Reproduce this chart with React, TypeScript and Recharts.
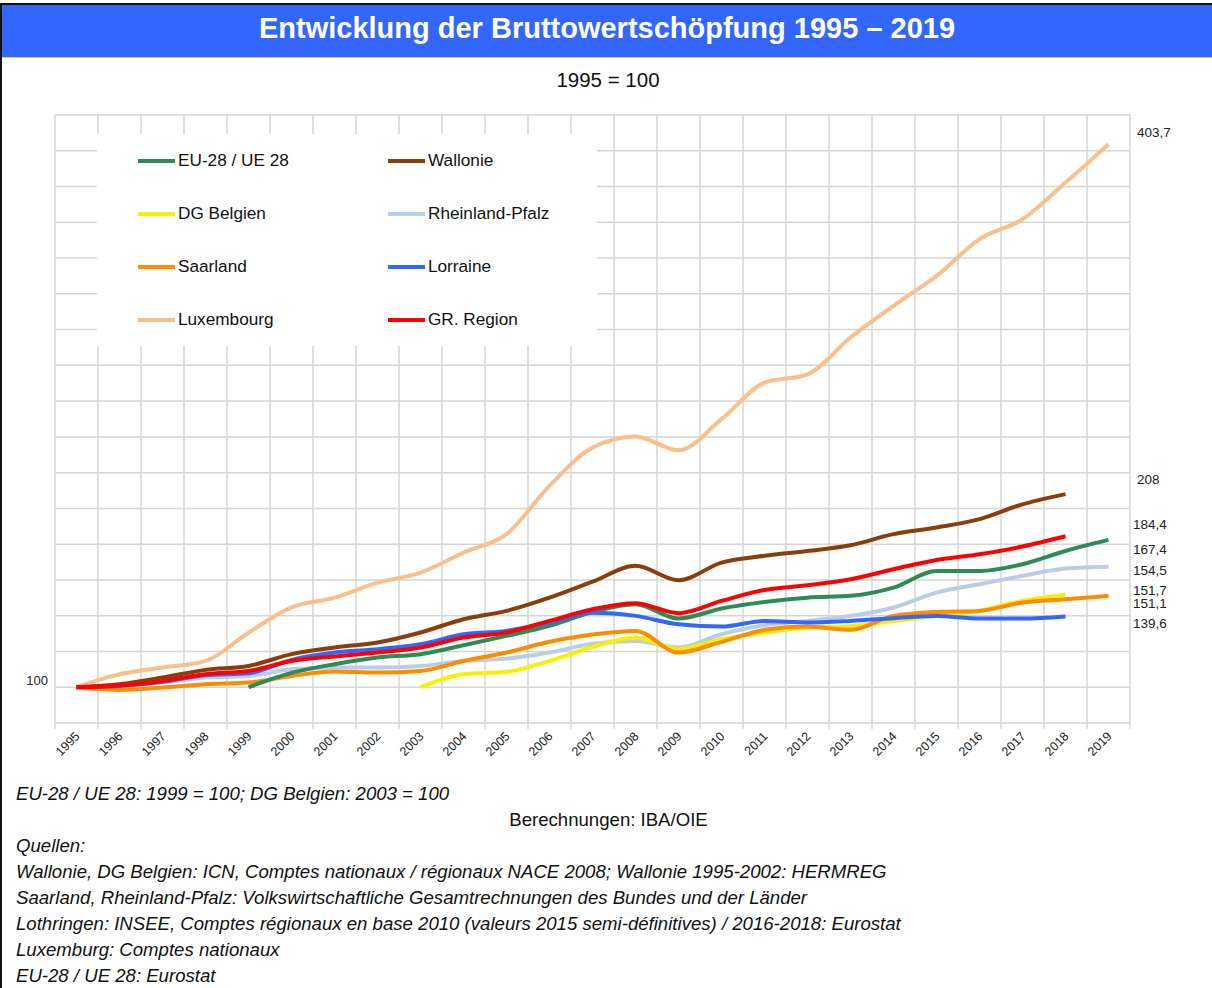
import { LineChart, Line, XAxis, YAxis, CartesianGrid } from 'recharts';

const years = [
  1995, 1996, 1997, 1998, 1999, 2000, 2001, 2002, 2003, 2004, 2005, 2006, 2007,
  2008, 2009, 2010, 2011, 2012, 2013, 2014, 2015, 2016, 2017, 2018, 2019,
];

const eu28 = [null, null, null, null, 100, 108, 112.9, 116.6, 118.5, 123.5, 128.7, 134.3, 142, 146.4, 138.4, 144, 147.7, 150.1, 151.1, 155.7, 165, 165, 168.8, 176.2, 182.4];
const wallonie = [100, 101.7, 105.4, 109.7, 111.9, 118.5, 122.2, 125, 130.6, 138, 142.7, 150.1, 159, 167.9, 159.8, 169.7, 173.5, 176.2, 179.4, 185.6, 189.3, 194, 202.3, 208, null];
const dgBelgien = [null, null, null, null, null, null, null, null, 100, 107.3, 108.6, 114.7, 122.5, 127.8, 121.3, 126.8, 130.6, 133.4, 134.3, 137.1, 139.9, 142.7, 148.3, 151.7, null];
const rheinlandPfalz = [100, 100.7, 102.6, 105.4, 106.3, 110, 111, 111, 111.9, 114.7, 116, 119.4, 124.3, 125.9, 122.2, 129.6, 134.7, 137.1, 139.9, 144.6, 152.9, 157.6, 162.3, 166.4, 167.4];
const saarland = [100, 98.5, 99.8, 101.7, 102.6, 106.3, 108.8, 108.2, 109.1, 114.7, 119.4, 125.4, 129.5, 131.5, 119.4, 125.4, 132.1, 133.9, 132.1, 139.9, 142.1, 142.7, 147.4, 149.2, 151.1];
const lorraine = [100, 100.7, 103, 106.7, 107.8, 115.3, 119.4, 121.3, 124, 129.6, 131.5, 136.2, 141.6, 139.9, 135.2, 133.9, 137.1, 136.2, 137.1, 138.6, 139.9, 138.4, 138.4, 139.6, null];
const luxembourg = [100, 107.3, 111, 114.7, 130.5, 144.7, 150.1, 158.5, 164.1, 175.3, 185.6, 212.6, 234, 240.2, 232.5, 249.9, 270.4, 275, 295.6, 313.3, 330, 350.6, 361.7, 382.2, 403.7];
const grRegion = [100, 101, 103.5, 107.3, 109.1, 114.7, 117.2, 119.4, 122.2, 127.8, 130.6, 137.1, 143.6, 147, 141.4, 148.3, 154.4, 157, 160.4, 166, 171.2, 174.4, 178.7, 184.4, null];

const yTicks = [80, 100, 120, 140, 160, 180, 200, 220, 240, 260, 280, 300, 320, 340, 360, 380, 400, 420];
const endLabels = ['403,7', '208', '184,4', '167,4', '154,5', '151,7', '151,1', '139,6'];

// legend order (two columns, row by row)
const legendItems = [
  { key: 'eu', name: 'EU-28 / UE 28', color: '#2e8b57' },
  { key: 'wal', name: 'Wallonie', color: '#8b3d0c' },
  { key: 'dg', name: 'DG Belgien', color: '#f7f000' },
  { key: 'rp', name: 'Rheinland-Pfalz', color: '#b9cde5' },
  { key: 'saar', name: 'Saarland', color: '#ff8c00' },
  { key: 'lor', name: 'Lorraine', color: '#3366ff' },
  { key: 'lux', name: 'Luxembourg', color: '#fcbf8c' },
  { key: 'gr', name: 'GR. Region', color: '#ff0000' },
];

// drawing order, bottom first
const drawOrder = ['lux', 'rp', 'dg', 'saar', 'eu', 'lor', 'wal', 'gr'];

const data = years.map((year, i) => ({
  year,
  eu: eu28[i],
  wal: wallonie[i],
  dg: dgBelgien[i],
  rp: rheinlandPfalz[i],
  saar: saarland[i],
  lor: lorraine[i],
  lux: luxembourg[i],
  gr: grRegion[i],
}));

const notes = [
  'Wallonie, DG Belgien: ICN, Comptes nationaux / régionaux NACE 2008; Wallonie 1995-2002: HERMREG',
  'Saarland, Rheinland-Pfalz: Volkswirtschaftliche Gesamtrechnungen des Bundes und der Länder',
  'Lothringen: INSEE, Comptes régionaux en base 2010 (valeurs 2015 semi-définitives) / 2016-2018: Eurostat',
  'Luxemburg: Comptes nationaux',
  'EU-28 / UE 28: Eurostat',
];

const FONT = '"Liberation Sans", Arial, sans-serif';
const CHART_W = 1212;
const CHART_H = 800;
const Y_AXIS_W = 55;
const MARGIN = { top: 115, right: 82, bottom: 17, left: 0 };
const PLOT_W = CHART_W - MARGIN.left - MARGIN.right - Y_AXIS_W;
const BAND = PLOT_W / years.length;
const GRID = '#d6d6d6';

const YearTick = ({ x, y, payload, index }: any) => {
  const half = BAND / 2;
  return (
    <g>
      <line x1={x - half} x2={x - half} y1={y} y2={y + 6} stroke={GRID} strokeWidth={1.5} />
      {index === years.length - 1 && (
        <line x1={x + half} x2={x + half} y1={y} y2={y + 6} stroke={GRID} strokeWidth={1.5} />
      )}
      <text
        x={x + 4}
        y={y + 14}
        transform={`rotate(-45 ${x + 4} ${y + 14})`}
        textAnchor="end"
        fontSize={12.5}
        fill="#222"
        style={{ fontFamily: FONT }}
      >
        {payload.value}
      </text>
    </g>
  );
};

const ValueTick = ({ x, y, payload }: any) => {
  if (payload.value !== 100) return null;
  return (
    <text x={x - 7} y={y - 2} textAnchor="end" fontSize={13} fill="#222" style={{ fontFamily: FONT }}>
      100
    </text>
  );
};

const endLabelTops = [124, 471, 516, 541, 562, 582, 595, 615];

const App = () => {
  return (
    <div style={{ position: 'relative', width: 1212, height: 988, overflow: 'hidden', background: '#fff', fontFamily: FONT }}>
      <style>{'body{margin:0}'}</style>
      <div style={{ position: 'absolute', top: 3, left: 0, width: 1212, height: 990, borderTop: '2px solid #111', borderLeft: '2px solid #111', boxSizing: 'border-box' }} />
      <div
        style={{
          position: 'absolute', top: 5, left: 2, width: 1210, height: 52, background: '#3366ff',
          borderBottom: '1px solid #c8c8c8', color: '#fff', fontWeight: 'bold', fontSize: 29,
          lineHeight: '46px', textAlign: 'center',
        }}
      >
        Entwicklung der Bruttowertschöpfung 1995 – 2019
      </div>
      <div style={{ position: 'absolute', top: 67, left: 0, width: 1216, textAlign: 'center', fontSize: 20.5, lineHeight: '26px', color: '#111' }}>
        1995 = 100
      </div>

      <div style={{ position: 'absolute', top: 0, left: 0 }}>
        <LineChart width={CHART_W} height={CHART_H} data={data} margin={MARGIN}>
          <CartesianGrid
            stroke={GRID}
            strokeWidth={1.5}
            verticalCoordinatesGenerator={({ offset }: any) =>
              years.concat([0]).map((_, i) => offset.left + (i * offset.width) / years.length)
            }
          />
          <XAxis
            dataKey="year"
            type="number"
            domain={[1994.5, 2019.5]}
            ticks={years}
            interval={0}
            height={60}
            axisLine={false}
            tickLine={false}
            tickSize={0}
            tickMargin={0}
            tick={<YearTick />}
          />
          <YAxis
            domain={[80, 420]}
            ticks={yTicks}
            width={Y_AXIS_W}
            axisLine={false}
            tickLine={false}
            tickSize={0}
            tickMargin={0}
            tick={<ValueTick />}
            interval={0}
          />
          {drawOrder.map((k) => {
            const item = legendItems.find((l) => l.key === k)!;
            return (
              <Line
                key={k}
                type="monotone"
                dataKey={k}
                name={item.name}
                stroke={item.color}
                strokeWidth={4}
                dot={false}
                activeDot={false}
                isAnimationActive={false}
              />
            );
          })}
        </LineChart>
      </div>

      {/* legend box sits over the grid like in the original */}
      <div
        style={{
          position: 'absolute', left: 97, top: 134, width: 500, height: 212, background: '#fff',
          display: 'grid', gridTemplateColumns: '250px 250px', gridTemplateRows: 'repeat(4, 53px)',
          paddingLeft: 41, boxSizing: 'border-box',
        }}
      >
        {legendItems.map((l) => (
          <div key={l.key} style={{ display: 'flex', alignItems: 'center', fontSize: 17.2, color: '#111' }}>
            <span style={{ display: 'inline-block', width: 37, height: 4, background: l.color, marginRight: 3 }} />
            {l.name}
          </div>
        ))}
      </div>

      {endLabels.map((t, i) => (
        <div key={t} style={{ position: 'absolute', left: i < 2 ? 1137 : 1133, top: endLabelTops[i], fontSize: 13.5, lineHeight: '18px', color: '#222' }}>
          {t}
        </div>
      ))}

      <div style={{ position: 'absolute', left: 16, top: 781, width: 1190, fontSize: 18.6, lineHeight: '26px', color: '#111' }}>
        <div style={{ fontStyle: 'italic' }}>EU-28 / UE 28: 1999 = 100; DG Belgien: 2003 = 100</div>
        <div style={{ textAlign: 'center', width: 1185 }}>Berechnungen: IBA/OIE</div>
        <div style={{ fontStyle: 'italic' }}>Quellen:</div>
        {notes.map((n) => (
          <div key={n} style={{ fontStyle: 'italic' }}>{n}</div>
        ))}
      </div>
    </div>
  );
};

export default App;
